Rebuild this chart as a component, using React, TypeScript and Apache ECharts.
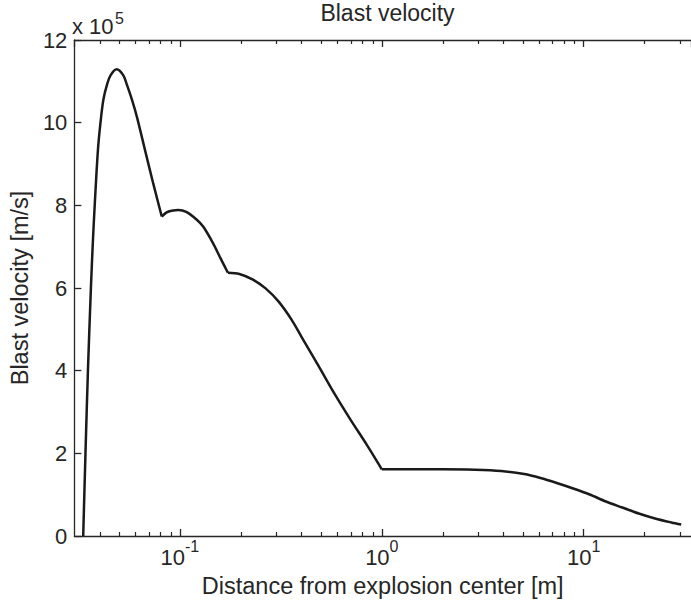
import React, { useEffect, useRef } from "react";
import * as echarts from "echarts";

// Segment 1: rise to main peak, down to first kink
const seg1Distance = [0.03318, 0.03405, 0.03502, 0.03622, 0.03708, 0.03783, 0.03925, 0.04041, 0.04174, 0.04371, 0.0454, 0.04857, 0.05236, 0.05432, 0.0579, 0.06144, 0.0672, 0.07373, 0.08128];
const seg1Velocity = [0, 2.0, 4.0, 5.99, 7.16, 8.0, 9.34, 10.0, 10.55, 10.95, 11.15, 11.29, 11.15, 10.95, 10.55, 10.11, 9.33, 8.53, 7.73];
// Segment 2: second hump
const seg2Distance = [0.08128, 0.08597, 0.09093, 0.09833, 0.1075, 0.1212, 0.1306, 0.146, 0.1574, 0.1728];
const seg2Velocity = [7.73, 7.83, 7.87, 7.89, 7.84, 7.65, 7.48, 7.08, 6.76, 6.37];
// Segment 3: decay down to 1 m
const seg3Distance = [0.1728, 0.1969, 0.2286, 0.2656, 0.3083, 0.3577, 0.4001, 0.4826, 0.5817, 0.7006, 0.8445, 1.0];
const seg3Velocity = [6.37, 6.34, 6.21, 5.99, 5.67, 5.23, 4.82, 4.14, 3.45, 2.81, 2.2, 1.614];
// Segment 4: plateau and far field
const seg4Distance = [1.0, 1.993, 2.894, 3.904, 5.07, 6.11, 7.357, 8.872, 10.7, 12.88, 15.53, 18.73, 22.55, 27.19, 30.41];
const seg4Velocity = [1.614, 1.614, 1.604, 1.573, 1.5, 1.403, 1.282, 1.149, 1.004, 0.835, 0.69, 0.544, 0.423, 0.327, 0.278];

const minorTickDistances = [0.04, 0.05, 0.06, 0.07, 0.08, 0.09, 0.2, 0.3, 0.4, 0.5, 0.6, 0.7, 0.8, 0.9, 2, 3, 4, 5, 6, 7, 8, 9, 20, 30];

const SCALE = 1e5;
const FONT = "'Liberation Sans', Arial, Helvetica, sans-serif";
const INK = "#262626";

function pairs(d: number[], v: number[]) {
  return d.map((x, i) => [x, v[i] * SCALE]);
}

export default function App() {
  const ref = useRef<HTMLDivElement>(null);
  useEffect(() => {
    if (!ref.current) return;
    const chart = echarts.init(ref.current, undefined, { renderer: "svg" });
    const lineSeries = (d: number[], v: number[]) => ({
      type: "line",
      data: pairs(d, v),
      xAxisIndex: 0,
      yAxisIndex: 0,
      showSymbol: false,
      smooth: 0.3,
      lineStyle: { color: "#1a1a1a", width: 2.5 },
      silent: true,
      z: 3,
    });
    const logAxisCommon = {
      type: "log",
      logBase: 10,
      min: 0.03,
      max: 34,
      splitLine: { show: false },
      axisLine: { show: true, lineStyle: { color: INK, width: 1.3 } },
      axisTick: { show: true, inside: true, length: 7, lineStyle: { color: INK, width: 1.3 } },
    };
    chart.setOption({
      animation: false,
      backgroundColor: "#ffffff",
      title: {
        text: "Blast velocity",
        left: 387.5,
        top: 2,
        padding: 0,
        textAlign: "center",
        textStyle: { fontFamily: FONT, fontSize: 23, fontWeight: "normal", color: INK, lineHeight: 22 },
      },
      grid: { left: 72, top: 40, right: -9, bottom: 67, containLabel: false },
      xAxis: [
        {
          ...logAxisCommon,
          position: "bottom",
          name: "Distance from explosion center [m]",
          nameLocation: "middle",
          nameGap: 38,
          nameTextStyle: { fontFamily: FONT, fontSize: 23.5, color: INK },
          axisLabel: {
            show: true,
            margin: 2,
            showMinLabel: false,
            showMaxLabel: false,
            formatter: (v: number) => `{b|10}{s|${Math.round(Math.log10(v))}}`,
            rich: {
              b: { fontFamily: FONT, fontSize: 22, color: INK, padding: [8, 0, 0, 0], verticalAlign: "bottom" },
              s: { fontFamily: FONT, fontSize: 16, color: INK, verticalAlign: "top" },
            },
          },
        },
        {
          ...logAxisCommon,
          position: "top",
          axisLabel: { show: false },
        },
      ],
      yAxis: [
        {
          type: "value",
          min: 0,
          max: 12 * SCALE,
          interval: 2 * SCALE,
          position: "left",
          name: "Blast velocity [m/s]",
          nameLocation: "middle",
          nameRotate: 90,
          nameGap: 39,
          nameTextStyle: { fontFamily: FONT, fontSize: 23.5, color: INK },
          splitLine: { show: false },
          axisLine: { show: true, lineStyle: { color: INK, width: 1.3 } },
          axisTick: { show: true, inside: true, length: 7, lineStyle: { color: INK, width: 1.3 } },
          axisLabel: {
            margin: 7,
            fontFamily: FONT,
            fontSize: 22,
            color: INK,
            formatter: (v: number) => String(Math.round(v / SCALE)),
          },
        },
      ],
      graphic: [
        {
          type: "text",
          x: 72,
          y: 15,
          style: { text: "x 10", fontFamily: FONT, fontSize: 22, fill: INK, verticalAlign: "top" },
        },
        {
          type: "text",
          x: 115,
          y: 10,
          style: { text: "5", fontFamily: FONT, fontSize: 16, fill: INK, verticalAlign: "top" },
        },
      ],
      series: [
        lineSeries(seg1Distance, seg1Velocity),
        lineSeries(seg2Distance, seg2Velocity),
        lineSeries(seg3Distance, seg3Velocity),
        lineSeries(seg4Distance, seg4Velocity),
        {
          type: "custom",
          xAxisIndex: 0,
          yAxisIndex: 0,
          silent: true,
          clip: false,
          z: 4,
          data: minorTickDistances.map((d) => [d, 0]),
          renderItem: (params: any, api: any) => {
            const x = api.value(0);
            const b = api.coord([x, 0]);
            const t = api.coord([x, 12 * SCALE]);
            const px = Math.round(b[0]) + 0.5;
            const style = { stroke: INK, lineWidth: 1.2 };
            return {
              type: "group",
              children: [
                { type: "line", shape: { x1: px, y1: b[1], x2: px, y2: b[1] - 4 }, style },
                { type: "line", shape: { x1: px, y1: t[1], x2: px, y2: t[1] + 4 }, style },
              ],
            };
          },
        },
      ],
    });
    return () => chart.dispose();
  }, []);
  return (
    <div
      ref={ref}
      style={{ position: "fixed", left: 0, top: 0, width: 691, height: 603, background: "#fff" }}
    />
  );
}
